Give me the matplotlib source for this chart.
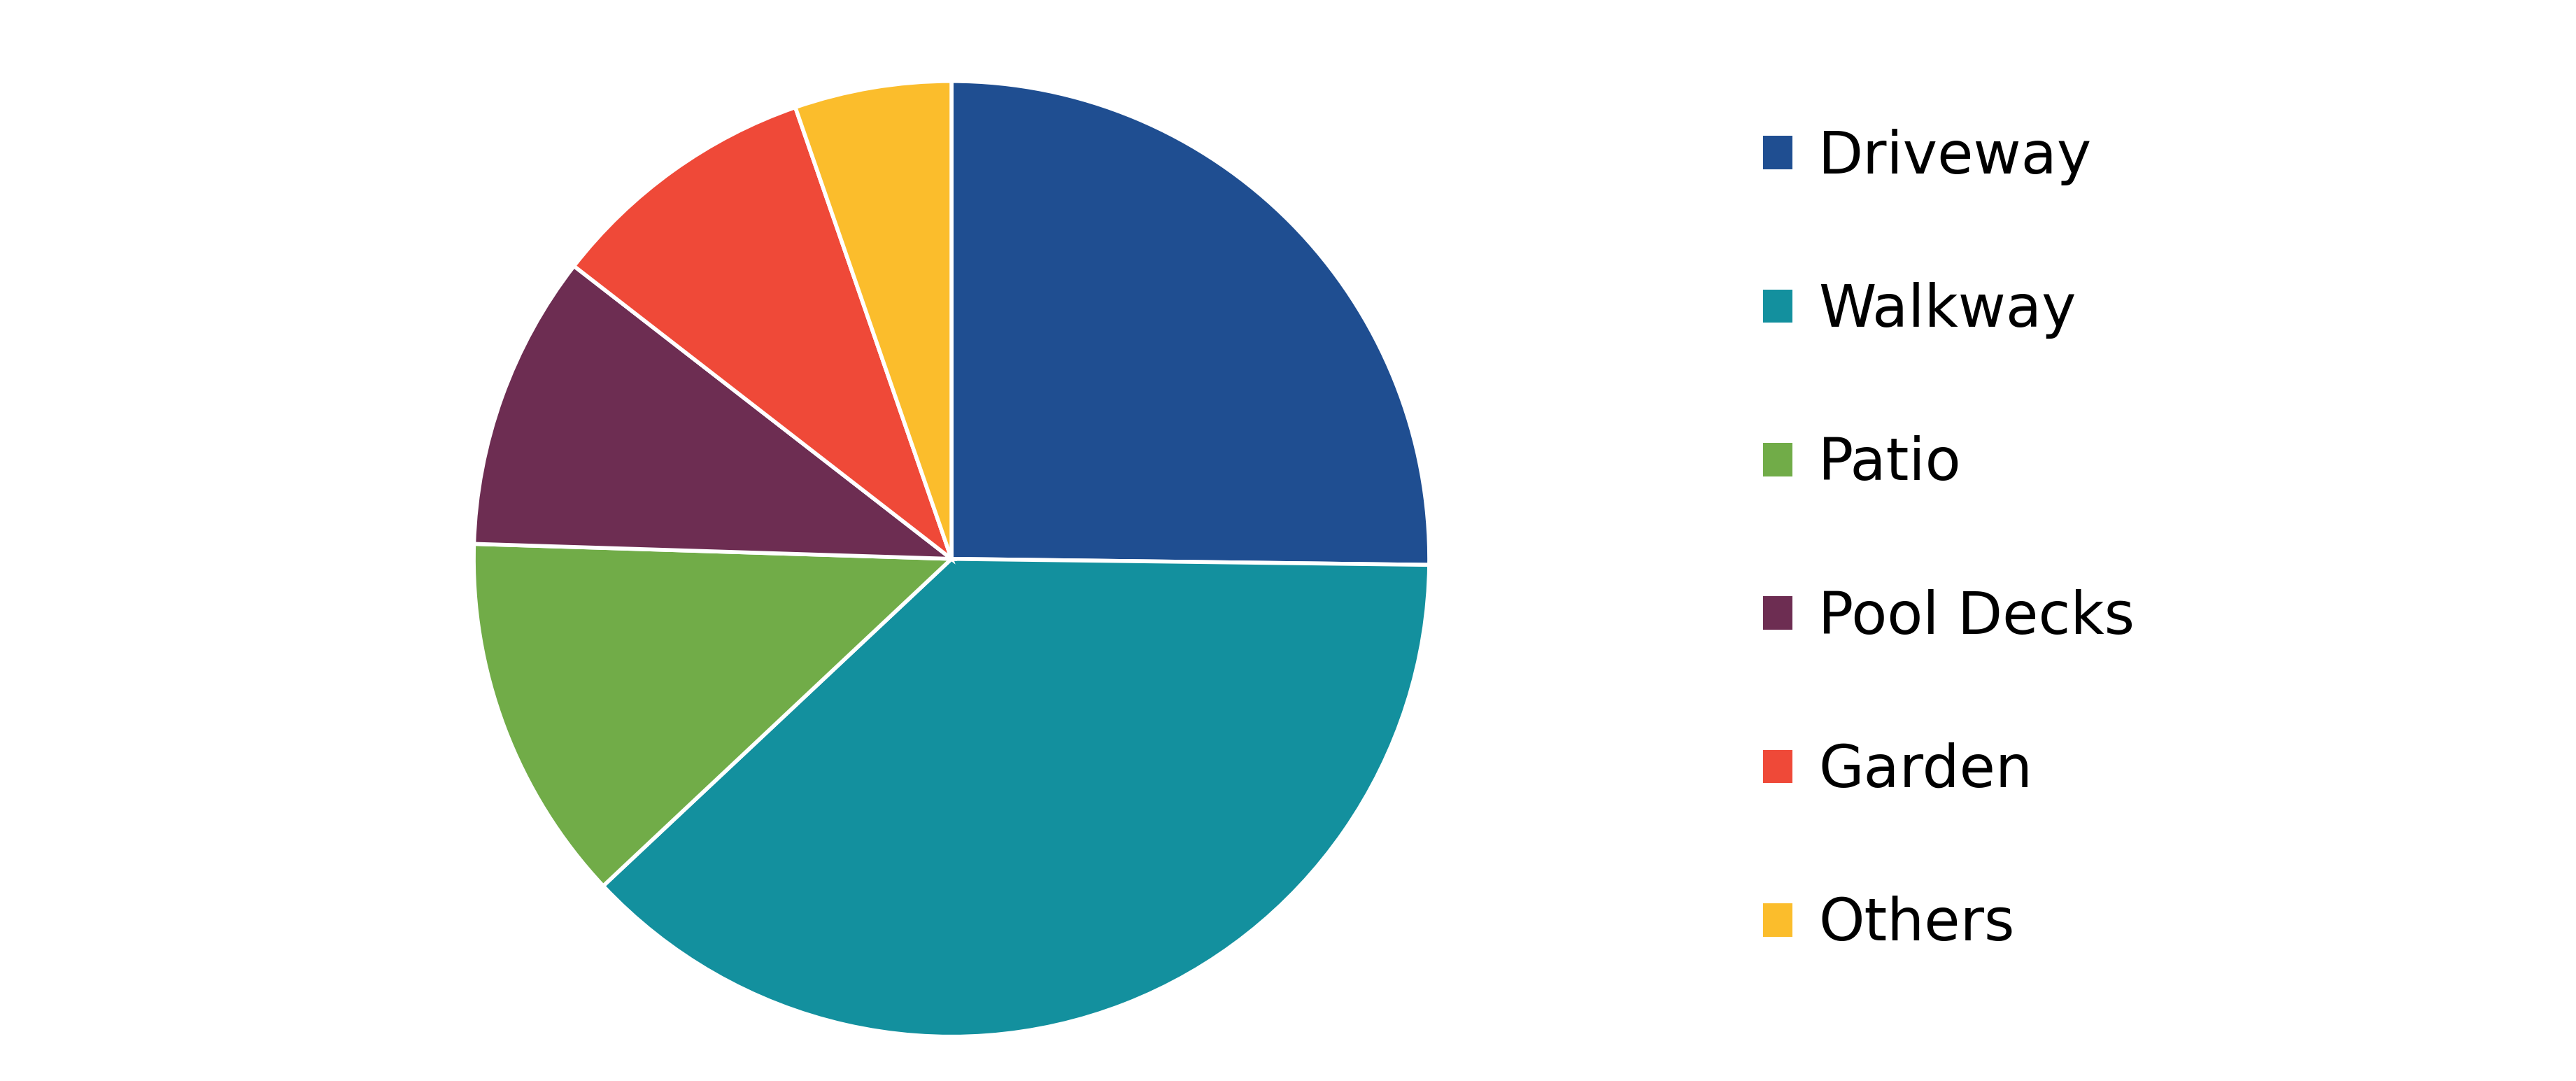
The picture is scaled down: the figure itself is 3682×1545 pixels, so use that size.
import matplotlib
matplotlib.use("Agg")
import matplotlib.pyplot as plt
from matplotlib.patches import Patch

labels = ["Driveway", "Walkway", "Patio", "Pool Decks", "Garden", "Others"]
values = [25.2, 37.8, 12.5, 10.0, 9.2, 5.3]
colors = ["#1F4E91", "#13909E", "#71AC48", "#6D2D52", "#EF4938", "#FBBD2C"]

fig = plt.figure(figsize=(36.82, 15.45), dpi=100)
r = 0.442 * 1545
cx, cy = 1360 / 3682, 1 - 0.517
w, h = 2 * r / 3682, 2 * r / 1545
ax = fig.add_axes([cx - w / 2, cy - h / 2, w, h])
ax.pie(values, colors=colors, startangle=90, counterclock=False,
       wedgeprops=dict(edgecolor="white", linewidth=4))
ax.set_xlim(-1, 1)
ax.set_ylim(-1, 1)
ax.set_aspect("equal")

handles = [Patch(facecolor=c, label=l) for c, l in zip(colors, labels)]
fig.legend(handles=handles, loc="center left", bbox_to_anchor=(0.664, 0.5),
           frameon=False, fontsize=60, handlelength=0.5, handleheight=0.5,
           labelspacing=1.66, handletextpad=0.45)
fig.savefig("out.png", dpi=100)
